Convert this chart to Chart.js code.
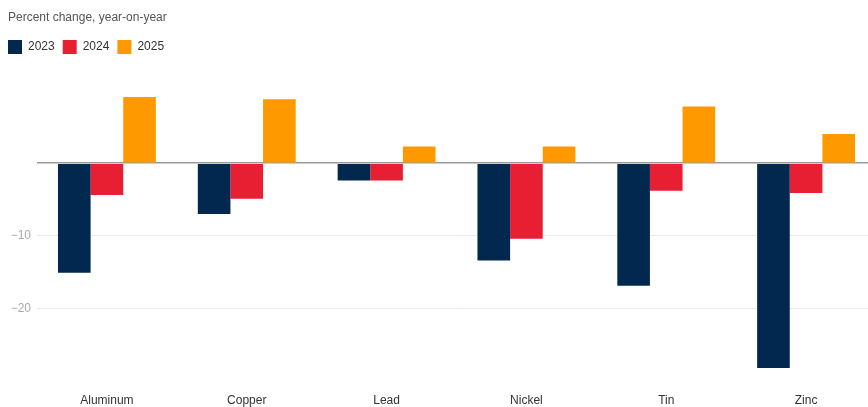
<!DOCTYPE html>
<html>
<head>
<meta charset="utf-8">
<script src="https://cdn.jsdelivr.net/npm/chart.js@4/dist/chart.umd.min.js"></script>
<style>
  html, body { margin: 0; padding: 0; background: #fff; overflow: hidden; }
  #wrap { position: relative; width: 876px; height: 407px; }
  #title { position: absolute; left: 8px; top: 10px; font: 12px "Liberation Sans", Arial, sans-serif; color: #555; }
</style>
</head>
<body>
<div id="wrap">
  <div id="title">Percent change, year-on-year</div>
  <canvas id="chart"></canvas>
</div>
<script>
// Metals: percent change, year-on-year
const categories = ['Aluminum', 'Copper', 'Lead', 'Nickel', 'Tin', 'Zinc'];
const seriesNames = ['2023', '2024', '2025'];
const values2023 = [-15.1, -7.0, -2.4, -13.4, -16.9, -28.2];
const values2024 = [-4.4, -4.9, -2.4, -10.4, -3.8, -4.1];
const values2025 = [9.1, 8.8, 2.3, 2.3, 7.8, 4.0];
const yTicks = [-20, -10, 0];

const colors = ['#03284f', '#e81e33', '#ff9900'];
const font = { family: '"Liberation Sans", Arial, sans-serif', size: 12 };

new Chart(document.getElementById('chart'), {
  type: 'bar',
  data: {
    labels: categories,
    datasets: [values2023, values2024, values2025].map((vals, i) => ({
      label: seriesNames[i],
      data: vals,
      backgroundColor: colors[i],
      borderWidth: 0,
      categoryPercentage: 0.7,
      barPercentage: 1.0
    }))
  },
  options: {
    responsive: true,
    maintainAspectRatio: false,
    animation: false,
    layout: { padding: { top: 32, left: 0, right: 0, bottom: 0 } },
    plugins: {
      title: { display: false },
      tooltip: { enabled: false },
      legend: {
        position: 'top',
        align: 'start',
        labels: {
          boxWidth: 14,
          boxHeight: 14,
          padding: 8,
          color: '#333',
          font: font
        }
      }
    },
    scales: {
      x: {
        grid: { display: false, drawTicks: false },
        border: { display: false },
        afterFit: (scale) => { scale.height = 26; },
        ticks: { color: '#333', font: font, padding: 12, maxRotation: 0 }
      },
      y: {
        min: -30,
        max: 13.65,
        afterBuildTicks: (scale) => { scale.ticks = yTicks.map(v => ({ value: v })); },
        afterFit: (scale) => { scale.width = 37; },
        border: { display: false },
        grid: {
          drawTicks: false,
          color: (ctx) => ctx.tick && ctx.tick.value === 0 ? '#9a9a9a' : '#ebebeb',
          lineWidth: (ctx) => ctx.tick && ctx.tick.value === 0 ? 1.5 : 1
        },
        ticks: {
          color: '#aaa',
          font: font,
          padding: 6,
          callback: (v) => v === 0 ? '' : '\u2212' + Math.abs(v)
        }
      }
    }
  }
});
</script>
</body>
</html>
